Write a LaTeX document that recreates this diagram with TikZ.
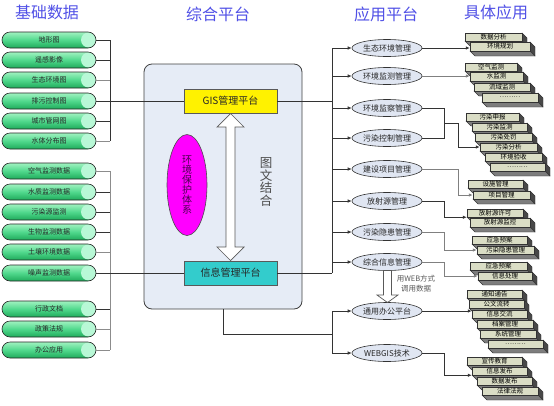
\documentclass[tikz,border=0pt]{standalone}
\usepackage{fontspec}
\setmainfont{Noto Sans CJK SC}
\usetikzlibrary{shapes.geometric,arrows.meta,calc}
\definecolor{titleblue}{RGB}{80,80,230}
\definecolor{pilltop}{RGB}{160,242,192}
\definecolor{pillmid}{RGB}{80,216,140}
\definecolor{pillbot}{RGB}{30,170,90}
\definecolor{pillcirc}{RGB}{184,248,214}
\definecolor{panelfill}{RGB}{230,236,246}
\definecolor{appfill}{RGB}{224,230,242}
\definecolor{facefill}{RGB}{218,221,197}
\definecolor{sidedark}{RGB}{72,72,72}
\definecolor{sidemid}{RGB}{125,125,125}
\definecolor{ecomag}{RGB}{255,0,255}
\definecolor{ecotext}{RGB}{75,0,80}
\definecolor{tealbox}{RGB}{51,204,204}
\tikzset{
  title/.style={text=titleblue,font=\fontsize{16}{16}\selectfont,inner sep=0},
  pill/.style={rectangle,rounded corners=8pt,minimum width=94pt,minimum height=16pt,inner sep=0,
    draw=black!85,line width=0.6pt,top color=pilltop,bottom color=pillbot,middle color=pillmid,
    font=\fontsize{7}{7}\selectfont,text=black!85,
    path picture={\fill[pillcirc] ([xshift=-7.5pt]path picture bounding box.east) circle (7.5pt);}},
  lk/.style={draw=black!80,line width=0.7pt},
  lg/.style={draw=black!45,line width=0.9pt},
  panel/.style={rectangle,rounded corners=8pt,draw=black!75,line width=0.8pt,fill=panelfill,
    minimum width=158pt,minimum height=245pt,inner sep=0},
  platbox/.style={rectangle,draw=black!65,line width=0.7pt,minimum width=93pt,minimum height=24pt,
    inner sep=0,font=\fontsize{10}{10}\selectfont,text=black!85},
  app/.style={ellipse,draw=black!80,line width=0.6pt,fill=appfill,minimum width=70pt,minimum height=17pt,
    inner sep=0,font=\fontsize{8}{8}\selectfont,text=black!85},
  arrk/.style={lk,-{Latex[length=4pt,width=3.5pt]}},
  arrg/.style={draw=black!50,line width=0.8pt,-{Latex[length=4pt,width=3.5pt,fill=black]}},
  stkface/.style={rectangle,draw=black!80,line width=0.5pt,fill=facefill,inner sep=0,
    font=\fontsize{6.5}{6.5}\selectfont,text=black},
  blockarr/.style={draw=black!65,line width=0.7pt,fill=white}
}
\newcommand\pl[3]{\node[pill] (#1) at (49,#2) {\makebox[0pt]{#3}\hspace{8pt}};}
\newcommand\stk[6]{%
  \fill[sidedark,draw=black!80,line width=0.4pt] (#4,#3) -- (#4+5,#3+5) -- (#4+5,#5+5) -- (#4,#5) -- cycle;
  \fill[sidemid,draw=black!80,line width=0.4pt] (#2,#5) -- (#4,#5) -- (#4+5,#5+5) -- (#2+5,#5+5) -- cycle;
  \node[stkface,minimum width={#4-#2},minimum height={#5-#3}] (#1) at ({(#2+#4)/2},{(#3+#5)/2}) {#6};}
\begin{document}
\begin{tikzpicture}[x=1pt,y=-1pt]
\useasboundingbox (0,0) rectangle (554,405);
% titles
\node[title] (t1) at (47,12) {基础数据};
\node[title] (t2) at (218,14) {综合平台};
\node[title] (t3) at (386,14) {应用平台};
\node[title] (t4) at (496,12) {具体应用};
% left pills
\pl{p1}{40}{地形图}
\pl{p2}{60}{遥感影像}
\pl{p3}{80}{生态环境图}
\pl{p4}{101}{排污控制图}
\pl{p5}{121}{城市管网图}
\pl{p6}{141}{水体分布图}
\pl{p7}{171}{空气监测数据}
\pl{p8}{192}{水质监测数据}
\pl{p9}{212}{污染源监测}
\pl{p10}{232}{生物监测数据}
\pl{p11}{252}{土壤环境数据}
\pl{p12}{273}{噪声监测数据}
\pl{p13}{309}{行政文档}
\pl{p14}{329}{政策法规}
\pl{p15}{350}{办公应用}
\coordinate (busL) at (110,0);
\foreach \n/\s in {p1/lk,p2/lk,p3/lg,p5/lk,p6/lg,p7/lg,p8/lk,p9/lk,p10/lk,p11/lg,p13/lk,p14/lg,p15/lg}
  \draw[\s] (\n.east) -- (\n.east -| busL);
\draw[lk] (p1.east -| busL) -- (p6.east -| busL);
\draw[lg] (p7.east -| busL) -- (p15.east -| busL);
% panel
\node[panel] (panel) at (223,186.5) {};
\node[platbox,fill=yellow] (gis) at (230.5,101) {GIS管理平台};
\node[platbox,fill=tealbox] (info) at (230.5,273) {信息管理平台};
\draw[lk] (p4.east) -- (gis.west);
\draw[lk] (p12.east) -- (info.west);
\node[ellipse,draw=black!70,line width=0.6pt,fill=ecomag,minimum width=40pt,minimum height=101pt,inner sep=0,
  align=center,text=ecotext,font=\fontsize{10}{10}\selectfont] (eco) at (187,185) {环\\境\\保\\护\\体\\系};
\node[align=center,text=black!70,font=\fontsize{12.5}{12.5}\selectfont,inner sep=0] (tw) at (266,182) {图\\文\\结\\合};
\draw[blockarr] (230.5,113.5) -- (244,127) -- (235,127) -- (235,247) -- (244,247) -- (230.5,260.5)
  -- (217,247) -- (226,247) -- (226,127) -- (217,127) -- cycle;
% applications
\node[app] (a1) at (387,48) {生态环境管理};
\node[app] (a2) at (387,76) {环境监测管理};
\node[app] (a3) at (387,108) {环境监察管理};
\node[app] (a4) at (387,138) {污染控制管理};
\node[app] (a5) at (387,169) {建设项目管理};
\node[app] (a6) at (387,201) {放射源管理};
\node[app] (a7) at (387,232) {污染隐患管理};
\node[app] (a8) at (387,262) {综合信息管理};
\node[app] (a9) at (387,311) {通用办公平台};
\node[app] (a10) at (387,353) {WEBGIS技术};
\coordinate (busR) at (332,0);
\coordinate (busR2) at (332,334);
\draw[lk] (gis.east) -- (gis.east -| busR);
\draw[lk] (info.east) -- (info.east -| busR);
\draw[lk] (busR |- a1.west) -- (busR |- info.east);
\foreach \n in {a1,a2,a3,a4,a5,a6,a7,a8}
  \draw[arrk] (busR |- \n.west) -- (\n.west);
\draw[lk] (panel.south) |- (busR2);
\draw[lk] (busR |- a9.west) -- (busR |- a10.west);
\foreach \n in {a9,a10}
  \draw[arrk] (busR |- \n.west) -- (\n.west);
\draw[blockarr] (383.5,270.5) -- (391.5,270.5) -- (391.5,295) -- (398,295) -- (387.5,302.5)
  -- (377,295) -- (383.5,295) -- cycle;
\node[align=center,text=black!65,font=\fontsize{7.5}{10}\selectfont,inner sep=0] (webtxt) at (416,284) {用WEB方式\\调用数据};
% stacks
\stk{r1a}{465}{33}{522}{41}{数据分析}
\stk{r1b}{470}{42}{530}{51}{环境规划}
\stk{r2a}{465}{63}{517}{71}{空气监测}
\stk{r2b}{470}{72}{523}{81}{水监测}
\stk{r2c}{474}{83}{530}{91}{流域监测}
\stk{r2d}{482}{93}{538}{102}{………}
\stk{r3a}{466}{113}{519}{121}{污染申报}
\stk{r3b}{472}{123}{527}{131}{污染监测}
\stk{r3c}{475}{133}{532}{141}{污染处罚}
\stk{r3d}{480}{143}{537}{151}{污染分析}
\stk{r3e}{485}{153}{542}{161}{环境验收}
\stk{r3f}{490}{163}{545}{171}{………}
\stk{r4a}{468}{180}{523}{188}{设施管理}
\stk{r4b}{473}{191}{530}{199}{项目管理}
\stk{r5a}{467}{209}{523}{217}{放射源许可}
\stk{r5b}{470}{218}{530}{227}{放射源监控}
\stk{r6a}{472}{236}{527}{244}{应急预案}
\stk{r6b}{477}{246}{534}{254}{污染隐患管理}
\stk{r7a}{470}{262}{527}{270}{应急预案}
\stk{r7b}{478}{272}{532}{280}{信息处理}
\stk{r8a}{467}{290}{522}{298}{通知通告}
\stk{r8b}{469}{300}{524}{308}{公文流转}
\stk{r8c}{472}{310}{527}{318}{信息交流}
\stk{r8d}{477}{320}{533}{328}{档案管理}
\stk{r8e}{480}{330}{536}{338}{系统管理}
\stk{r8f}{488}{340}{543}{348}{………}
\stk{r9a}{467}{357}{522}{365}{宣传教育}
\stk{r9b}{472}{367}{527}{375}{信息发布}
\stk{r9c}{477}{377}{532}{385}{数据发布}
\stk{r9d}{482}{387}{538}{395}{法律法规}
% app to stacks
\draw[arrk] (a1.east) -- (a1.east -| r1b.west);
\draw[arrg] (a2.east) -- (a2.east -| r2b.west);
\coordinate (c3) at (444,123);
\coordinate (d3) at (458,123);
\draw[lk] (a3.east) -| (c3);
\draw[lk] (a4.east) -| (c3);
\draw[arrk] (c3) -- (d3) |- (r3d.west);
\coordinate (j4) at (458,0);
\coordinate (j5) at (444,0);
\draw[arrg] (a5.east) -- (a5.east -| j4) |- (r4b.west);
\draw[arrk] (a6.east) -- (a6.east -| j5) |- (r5a.south west);
\draw[arrg] (a7.east) -- (a7.east -| j5) |- (r6b.west);
\draw[arrg] (a8.east) -- (a8.east -| j5) |- (r7b.west);
\draw[arrk] (a9.east) -- (a9.east -| r8c.west);
\draw[arrk] (a10.east) -- (a10.east -| j5) |- (r9b.south west);
\end{tikzpicture}
\end{document}
